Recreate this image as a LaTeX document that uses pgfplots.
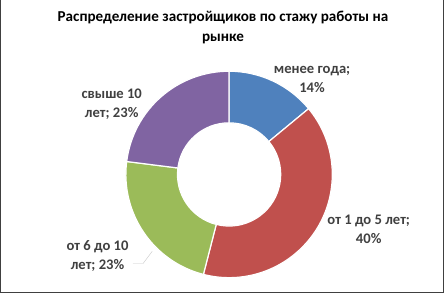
\documentclass[border=0pt]{standalone}
\usepackage{fontspec}
\setmainfont{Carlito}
\usepackage{pgfplots}
\usepackage{pgfplotstable}
\pgfplotsset{compat=1.18}
\definecolor{sblue}{HTML}{4F81BD}
\definecolor{sred}{HTML}{C0504D}
\definecolor{sgreen}{HTML}{9BBB59}
\definecolor{spurple}{HTML}{8064A2}
\definecolor{lbl}{HTML}{404040}
\pgfplotstableread{
val
14
40
23
23
}\data
\begin{document}
\begin{tikzpicture}
\pgfplotstablegetelem{0}{val}\of\data \let\va\pgfplotsretval
\pgfplotstablegetelem{1}{val}\of\data \let\vb\pgfplotsretval
\pgfplotstablegetelem{2}{val}\of\data \let\vc\pgfplotsretval
\pgfplotstablegetelem{3}{val}\of\data \let\vd\pgfplotsretval
\pgfmathsetmacro\aA{90}
\pgfmathsetmacro\aB{\aA-3.6*\va}
\pgfmathsetmacro\aC{\aB-3.6*\vb}
\pgfmathsetmacro\aD{\aC-3.6*\vc}
\pgfmathsetmacro\aE{\aD-3.6*\vd}
\newcommand\slice[3]{\fill[#3,draw=white,line width=1.2pt]
  (axis cs:{228+102*cos(#1)},{123+102*sin(#1)}) arc[start angle=#1,end angle=#2,radius=102bp]
  -- (axis cs:{228+51*cos(#2)},{123+51*sin(#2)}) arc[start angle=#2,end angle=#1,radius=51bp] -- cycle;}
\begin{axis}[scale only axis, width=444bp, height=295bp,
  xmin=0, xmax=444, ymin=0, ymax=295, hide axis, clip=false]
\slice{\aA}{\aB}{sblue}
\slice{\aB}{\aC}{sred}
\slice{\aC}{\aD}{sgreen}
\slice{\aD}{\aE}{spurple}
\draw[gray!45] (axis cs:133,35) -- (axis cs:143,35) -- (axis cs:152,47);
\draw[black!75, line width=0.8pt] (axis cs:2,295) -- (axis cs:2,6) -- (axis cs:440,6) -- (axis cs:440,295);
\node[align=center, font=\bfseries\fontsize{15}{20}\selectfont] at (axis cs:222,268) {Распределение застройщиков по стажу работы на\\рынке};
\begin{scope}[every node/.style={align=center, text=lbl, font=\bfseries\fontsize{14.5}{18.5}\selectfont}]
\node at (axis cs:310,217) {менее года;\\14\%};
\node at (axis cs:366,69) {от 1 до 5 лет;\\40\%};
\node at (axis cs:98,42.5) {от 6 до 10\\лет; 23\%};
\node at (axis cs:112,192.5) {свыше 10\\лет; 23\%};
\end{scope}
\end{axis}
\end{tikzpicture}
\end{document}
